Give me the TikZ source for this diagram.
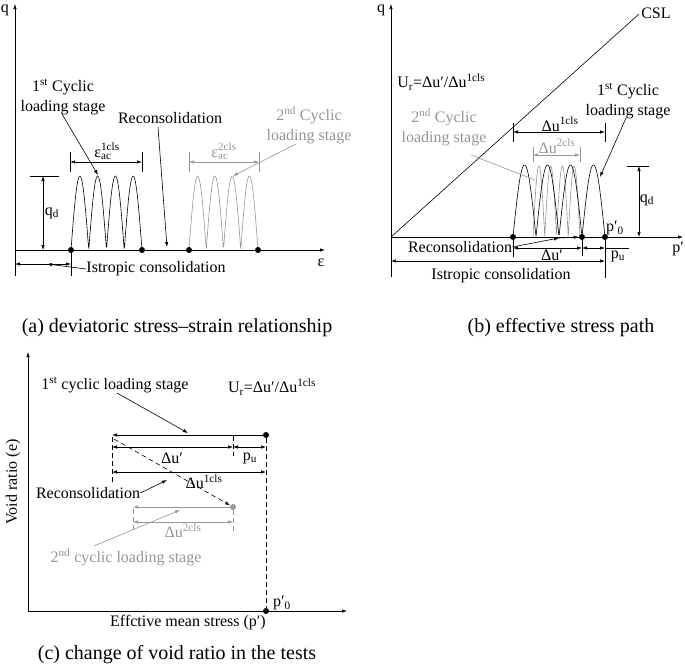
\documentclass[tikz,border=0pt]{standalone}
\usepackage{fontspec}
\setmainfont{Liberation Serif}
\usetikzlibrary{arrows.meta}
\definecolor{stagegray}{HTML}{959595}

\begin{document}
\begin{tikzpicture}[x=1pt, y=-1pt, line width=0.6pt, line join=round,
  >={Latex[length=5pt,width=3.4pt]},
  font=\fontsize{16}{20}\selectfont,
  dot/.style={circle, fill, inner sep=0pt, minimum size=6pt},
  lbl/.style={inner sep=0pt, align=center},
  ttl/.style={inner sep=0pt, font=\fontsize{20}{24}\selectfont},
  second/.style={stagegray},
  dsh/.style={dash pattern=on 5pt off 3pt}]
\useasboundingbox (0,0) rectangle (685,665);

% (a) deviatoric stress-strain
\coordinate (aO) at (15,250);
\coordinate (aX) at (325,250);
\coordinate (aY) at (15,4);
\coordinate (aB) at (15,276);
\draw[->] (aB) -- (aY);
\draw[->] (aO) -- (aX);
\node (aq) at (5,10) [lbl] {q};
\node (ae) at (321,263) [lbl] {ε};

\draw plot[domain=71:142, samples=160] (\x, {250-74*abs(sin(180/17.75*(\x-71)))});
\draw[second] plot[domain=189:258, samples=160] (\x, {250-74*abs(sin(180/17.25*(\x-189)))});

\node (a1) at (71,250) [dot] {};
\node (a2) at (142,250) [dot] {};
\node (a3) at (189,250) [dot] {};
\node (a4) at (258,250) [dot] {};

\draw (30,176) -- (59,176);
\draw[<->] (43,176) -- (43,250);
\node (aqd) at (52,213) [lbl] {q\textsubscript{d}};

\draw (70,152) -- (70,172);
\draw (142,152) -- (142,172);
\draw[<->] (70,162) -- (142,162);
\node (aeps1) at (107,157) [lbl, anchor=base] {ε\rlap{\textsubscript{ac}}\textsuperscript{1cls}};

\draw[second] (189,152) -- (189,172);
\draw[second] (259,152) -- (259,172);
\draw[second, <->] (189,162) -- (259,162);
\node (aeps2) at (224,157) [lbl, anchor=base, second] {ε\rlap{\textsubscript{ac}}\textsuperscript{2cls}};

\node (ac1) at (63,97) [lbl] {1\textsuperscript{st} Cyclic\\loading stage};
\coordinate (ac1t) at (98,175);
\draw[->] (62,114) -- (ac1t);

\node (arc) at (170,118) [lbl] {Reconsolidation};
\coordinate (arct) at (167,247);
\draw[->] (158,127) -- (arct);

\node (ac2) at (309,125) [lbl, second] {2\textsuperscript{nd} Cyclic\\loading stage};
\coordinate (ac2t) at (233,176);
\draw[second, ->] (296,144) -- (ac2t);

\draw (a1) -- (71,276);
\draw[<->] (15,264) -- (71,264);
\node (aic) at (156,269) [lbl] {Istropic consolidation};
\coordinate (aict) at (47,264);
\draw[->] (aic.west) -- (aict);

% (b) effective stress path
\coordinate (bO) at (391,237);
\coordinate (bX) at (683,237);
\coordinate (bY) at (391,4);
\coordinate (bB) at (391,277);
\draw[->] (bB) -- (bY);
\draw[->] (bO) -- (bX);
\node (bq) at (381,10) [lbl] {q};
\node (bp) at (678,249) [lbl] {p′};
\coordinate (bcsl) at (639,14);
\draw (bO) -- (bcsl);
\node (bcsll) at (641,13) [lbl, anchor=west] {CSL};
\node (bur) at (397,82) [lbl, anchor=west] {U\textsubscript{r}=Δu′/Δu\textsuperscript{1cls}};

\draw[second] plot[domain=533:580, samples=160] (\x, {237-71*abs(sin(180/11.75*(\x-533)))});
\draw plot[domain=513:605, samples=200] (\x, {237-72*abs(sin(180/23*(\x-513)))});

\node (b1) at (513,237) [dot] {};
\node (b2) at (582,237) [dot] {};
\node (b3) at (605,237) [dot] {};
\node (bp0) at (615,228) [lbl] {p′\textsubscript{0}};

\draw (513,123) -- (513,142);
\draw (605,123) -- (605,142);
\draw[<->] (513,132) -- (605,132);
\node (bdu1) at (560,131) [lbl, anchor=base] {Δu\textsuperscript{1cls}};

\draw[second] (533,147) -- (533,162);
\draw[second] (580,147) -- (580,162);
\draw[second, <->] (533,155) -- (580,155);
\node (bdu2) at (557,153) [lbl, anchor=base, second] {Δu\textsuperscript{2cls}};

\draw (627,166) -- (649,166);
\draw[<->] (639,166) -- (639,237);
\node (bqd) at (647,200) [lbl] {q\textsubscript{d}};

\node (bc1) at (628,101) [lbl] {1\textsuperscript{st} Cyclic\\loading stage};
\coordinate (bc1t) at (600,177);
\draw[->] (626,118) -- (bc1t);

\node (bc2) at (444,127) [lbl, second] {2\textsuperscript{nd} Cyclic\\loading stage};
\coordinate (bc2t) at (535,180);
\draw[second] (471,155) -- (bc2t);

\draw (b1) -- (513,257);
\draw (b2) -- (582,256);
\draw (b3) -- (605,278);

\node (brc) at (460,247) [lbl] {Reconsolidation};
\coordinate (brct) at (559,238);
\draw[->] (brc.east) -- (brct);
\draw[->] (brct) -- (b2.west);

\draw[<->] (513,248) -- (582,248);
\node (bdup) at (552,255) [lbl] {Δu′};
\draw[<->] (582,248) -- (605,248);
\draw (605,248) -- (629,248);
\node (bpu) at (618,256) [lbl] {p\textsubscript{u}};

\draw[<->] (391,261) -- (605,261);
\node (bic) at (501,276) [lbl] {Istropic consolidation};

% titles
\node (ta) at (177,328) [ttl] {(a) deviatoric stress–strain relationship};
\node (tb) at (561,328) [ttl] {(b) effective stress path};
\node (tc) at (177,655) [ttl] {(c) change of void ratio in the tests};

% (c) void ratio
\coordinate (cO) at (28,611);
\coordinate (cX) at (347,611);
\coordinate (cY) at (28,352);
\draw[->] (cO) -- (cY);
\draw[->] (cO) -- (cX);
\node (cvr) at (13,482) [lbl, rotate=90] {Void ratio (e)};
\node (cem) at (188,623) [lbl] {Effctive mean stress (p′)};
\node (cp0) at (282,603) [lbl] {p′\textsubscript{0}};

\node (c1) at (266,435) [dot] {};
\node (c0) at (266,611) [dot] {};
\node (c2) at (233,507) [dot, fill=stagegray] {};

\draw[dsh] (c1) -- (c0);
\draw[dsh] (112,437) -- (112,482);
\draw[dsh] (233,436) -- (233,456);
\draw[->] (c1) -- (112,435);
\draw[<->] (112,447) -- (233,447);
\node (cdup) at (172,458) [lbl] {Δu′};
\draw[<->] (233,447) -- (266,447);
\node (cpu) at (250,458) [lbl] {p\textsubscript{u}};
\draw[<->] (112,472) -- (266,472);
\node (cdu1) at (204,482) [lbl] {Δu\textsuperscript{1cls}};

\draw[dsh, ->] (114,439) -- (c2);
\draw[second, ->] (c2) -- (133,507);
\draw[second, dsh] (133,509) -- (133,532);
\draw[second, dsh] (c2) -- (233,533);
\draw[second, <->] (133,522) -- (233,522);
\node (cdu2) at (183,531) [lbl, second] {Δu\textsuperscript{2cls}};

\node (cc1) at (115,385) [lbl] {1\textsuperscript{st} cyclic loading stage};
\coordinate (cc1t) at (188,433);
\draw[->] (117,393) -- (cc1t);
\node (cur) at (272,387) [lbl] {U\textsubscript{r}=Δu′/Δu\textsuperscript{1cls}};

\node (crc) at (88,493) [lbl] {Reconsolidation};
\coordinate (crct) at (167,480);
\draw[->] (crc.east) -- (crct);

\node (cc2) at (126,557) [lbl, second] {2\textsuperscript{nd} cyclic loading stage};
\coordinate (cc2t) at (180,510);
\draw[second, ->] (94,546) -- (cc2t);
\end{tikzpicture}
\end{document}
